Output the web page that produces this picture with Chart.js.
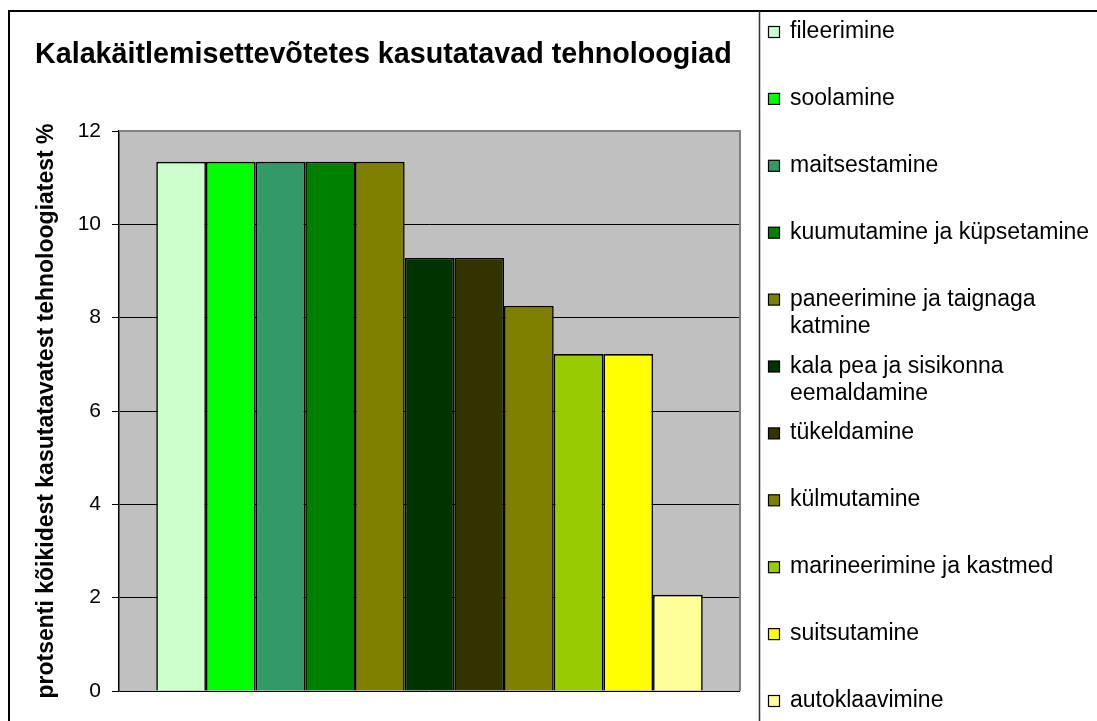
<!DOCTYPE html>
<html><head><meta charset="utf-8">
<script src="https://cdn.jsdelivr.net/npm/chart.js@4.4.1/dist/chart.umd.min.js"></script>
<style>html,body{margin:0;padding:0;background:#fff;overflow:hidden}canvas{display:block}</style>
</head><body>
<canvas id="c" width="1097" height="721" style="width:1097px;height:721px"></canvas>
<script>
const chartTitle = 'Kalakäitlemisettevõtetes kasutatavad tehnoloogiad';
const yAxisTitle = 'protsenti kõikidest kasutatavatest tehnoloogiatest %';
const categories = [''];
const seriesNames = ['fileerimine','soolamine','maitsestamine','kuumutamine ja küpsetamine','paneerimine ja taignaga\nkatmine','kala pea ja sisikonna\neemaldamine','tükeldamine','külmutamine','marineerimine ja kastmed','suitsutamine','autoklaavimine'];
const seriesValues = [11.34,11.34,11.34,11.34,11.34,9.28,9.28,8.25,7.22,7.22,2.06];
const seriesColors = ['#CCFFCC','#00FF00','#339966','#008000','#808000','#003300','#333300','#808000','#99CC00','#FFFF00','#FFFF99'];
const yTicks = [0,2,4,6,8,10,12];

const FONT = '"Liberation Sans", Arial, sans-serif';
const decor = {
  id:'decor',
  beforeDraw(chart){
    const {ctx, chartArea:a} = chart;
    ctx.save();
    ctx.fillStyle='#fff'; ctx.fillRect(0,0,chart.width,chart.height);
    ctx.fillStyle='#C0C0C0'; ctx.fillRect(a.left,a.top,a.right-a.left,a.bottom-a.top);
    ctx.restore();
  },
  afterDraw(chart){
    const {ctx, chartArea:a} = chart;
    ctx.save();
    ctx.strokeStyle='#808080'; ctx.lineWidth=2;
    ctx.beginPath(); ctx.moveTo(a.left,a.top); ctx.lineTo(a.right,a.top); ctx.lineTo(a.right,a.bottom); ctx.stroke();
    ctx.strokeStyle='#000'; ctx.lineWidth=2;
    ctx.beginPath(); ctx.moveTo(9,chart.height+5); ctx.lineTo(9,11); ctx.lineTo(chart.width+5,11); ctx.stroke();
    ctx.strokeStyle='#333'; ctx.lineWidth=1.5;
    ctx.beginPath(); ctx.moveTo(759.5,11); ctx.lineTo(759.5,chart.height+5); ctx.stroke();
    ctx.fillStyle='#000'; ctx.font='bold 28.7px '+FONT; ctx.textBaseline='alphabetic'; ctx.textAlign='left';
    ctx.fillText(chartTitle,35,63);
    ctx.font='23px '+FONT;
    chart.data.datasets.forEach((ds,i)=>{
      const base=38+i*66.9;
      ctx.fillStyle=ds.backgroundColor; ctx.fillRect(768.5,base-11.5,11,11);
      ctx.strokeStyle='#000'; ctx.lineWidth=1.2; ctx.strokeRect(768.5,base-11.5,11,11);
      ctx.fillStyle='#000';
      ds.label.split('\n').forEach((ln,j)=>ctx.fillText(ln,790,base+j*27));
    });
    ctx.restore();
  }
};

new Chart(document.getElementById('c'), {
  type:'bar',
  data:{labels:categories, datasets: seriesNames.map((n,i)=>({label:n, data:[seriesValues[i]], backgroundColor:seriesColors[i], borderColor:'#000', borderWidth:1.6, categoryPercentage:0.88, barPercentage:1}))},
  options:{
    responsive:false, animation:false, devicePixelRatio:1,
    layout:{padding:{top:131,bottom:30,right:357,left:0}},
    plugins:{legend:{display:false}, title:{display:false}, tooltip:{enabled:false}},
    scales:{
      x:{display:false, grid:{display:false}},
      y:{min:0,max:12,
         afterBuildTicks(s){s.ticks=yTicks.map(v=>({value:v}));},
         afterFit(s){s.width=119;},
         ticks:{color:'#000', font:{family:FONT,size:21}, padding:11},
         grid:{color:'#000', lineWidth:1, tickLength:7},
         border:{color:'#000', width:1.5},
         title:{display:true, text:yAxisTitle, color:'#000', font:{family:FONT,size:23,weight:'bold'}, padding:{top:33,bottom:0}}}
    }
  },
  plugins:[decor]
});
</script>
</body></html>
